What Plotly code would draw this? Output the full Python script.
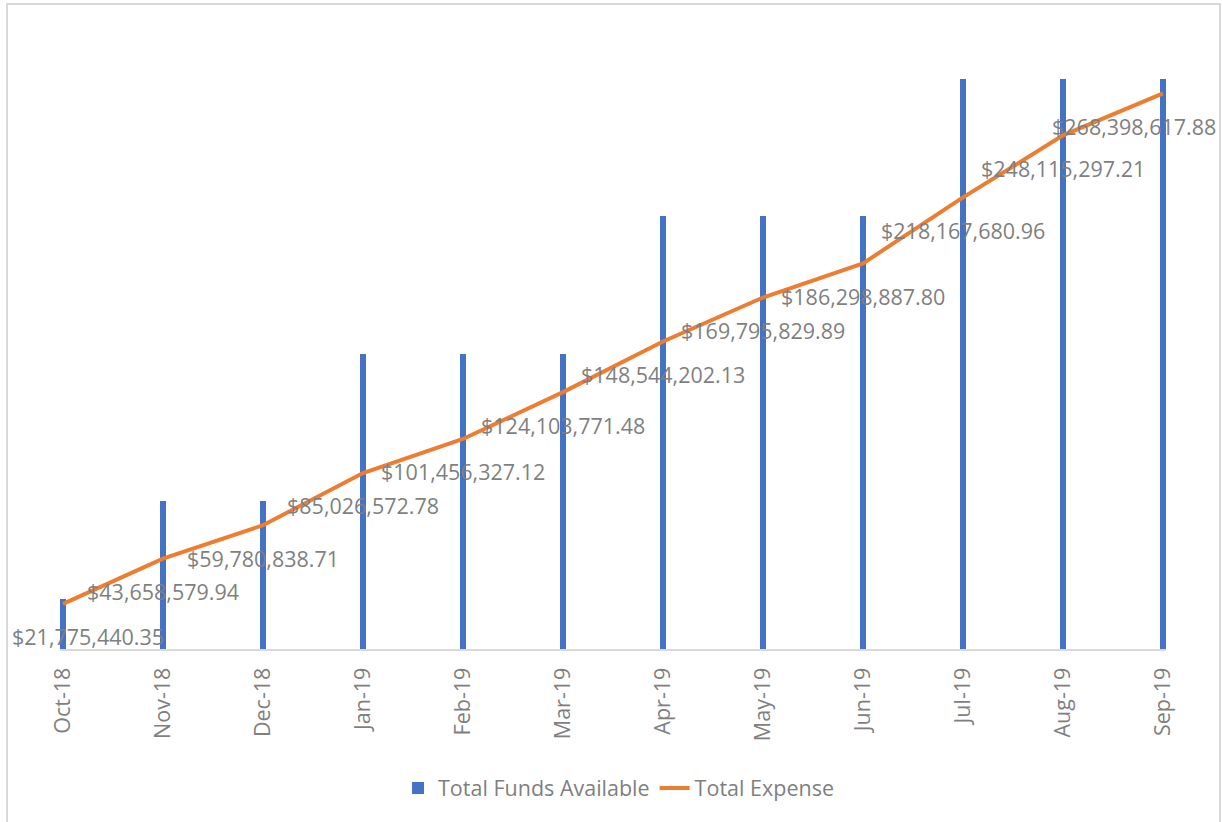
import plotly.graph_objects as go

months = ["Oct-18", "Nov-18", "Dec-18", "Jan-19", "Feb-19", "Mar-19",
          "Apr-19", "May-19", "Jun-19", "Jul-19", "Aug-19", "Sep-19"]
funds_available = [24.1e6, 71.6e6, 71.6e6, 142.5e6, 142.5e6, 142.5e6,
                   209.2e6, 209.2e6, 209.2e6, 275.3e6, 275.3e6, 275.3e6]
total_expense = [21775440.35, 43658579.94, 59780838.71, 85026572.78,
                 101456327.12, 124103771.48, 148544202.13, 169795829.89,
                 186298887.80, 218167680.96, 248115297.21, 268398617.88]

FONT = "Open Sans"
GRAY = "#7f7f7f"
FS = 21.5

fig = go.Figure()
fig.add_trace(go.Bar(
    x=months, y=funds_available, name="Total Funds Available",
    marker=dict(color="#4472C4", line=dict(width=0)), width=0.06,
))
fig.add_trace(go.Scatter(
    x=months, y=total_expense, name="Total Expense", mode="lines",
    line=dict(color="#ED7D31", width=4),
))

# data labels for the expense line
xshifts = [25] + [0] * 10 + [-29]
for m, v, xs in zip(months, total_expense, xshifts):
    fig.add_annotation(
        x=m, y=v, text=f"${v:,.2f}", showarrow=False,
        xshift=xs, yshift=-33, xanchor="center", yanchor="middle",
        font=dict(family=FONT, size=FS, color=GRAY),
    )

L, R, T, B = 60, 56, 28, 173
W, H = 1222, 822
pw, ph = W - L - R, H - T - B

def px_x(p):
    return (p - L) / pw

def px_y(p):
    return (H - B - p) / ph

fig.add_shape(type="rect", xref="paper", yref="paper",
              x0=px_x(7), x1=px_x(1220), y0=px_y(830), y1=px_y(4),
              line=dict(color="#d9d9d9", width=2), layer="below")

fig.update_layout(
    width=W, height=H,
    margin=dict(l=L, r=R, t=T, b=B),
    paper_bgcolor="white", plot_bgcolor="white",
    showlegend=True,
    legend=dict(orientation="h", x=0.505, xanchor="center", y=px_y(788),
                yanchor="middle", font=dict(family=FONT, size=FS, color=GRAY),
                itemwidth=30, tracegroupgap=0),
    xaxis=dict(type="category", range=[-0.03, 11.03], tickangle=-90,
               showline=True, linecolor="#d9d9d9", linewidth=2,
               showgrid=False, ticks="", ticklen=0, ticklabelstandoff=8,
               tickfont=dict(family=FONT, size=FS, color=GRAY)),
    yaxis=dict(range=[0, 300e6], visible=False, showgrid=False),
    font=dict(family=FONT, color=GRAY),
    bargap=0,
)

fig.write_html("out.html")
